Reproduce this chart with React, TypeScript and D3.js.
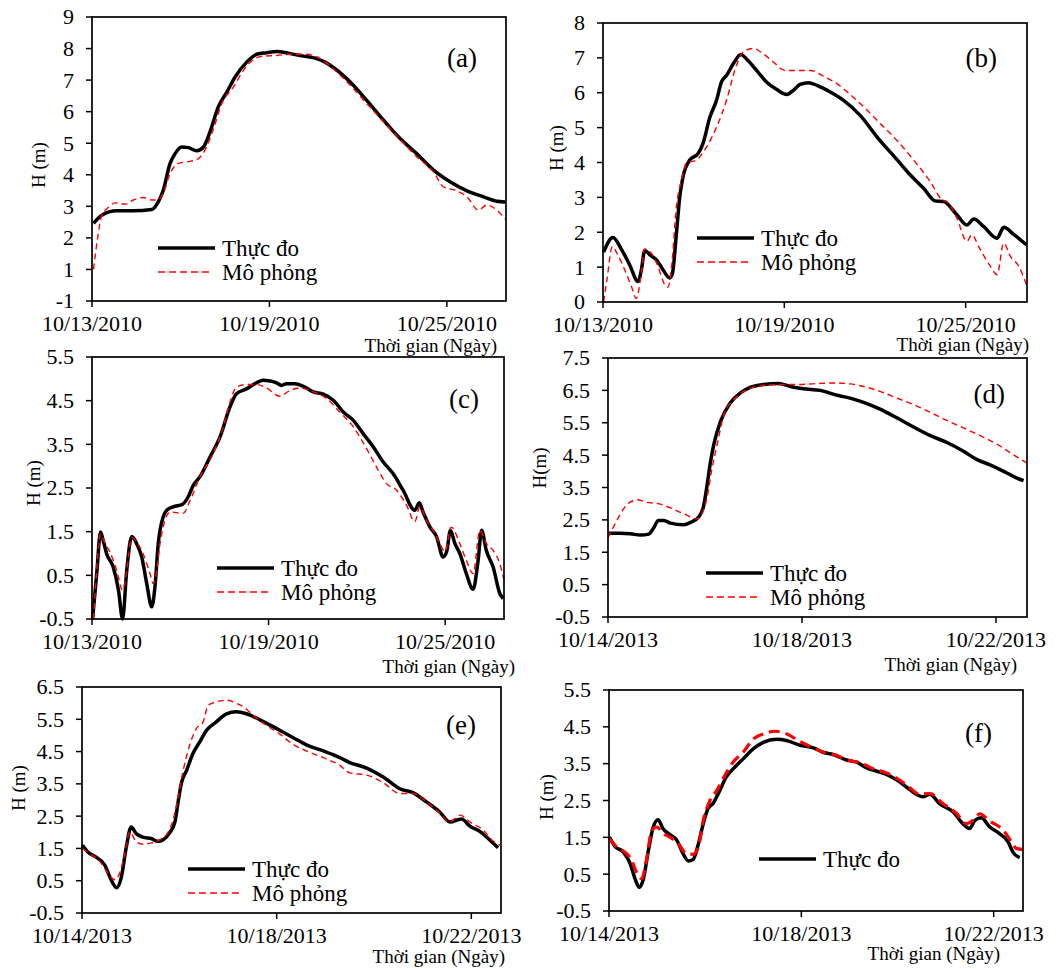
import React from 'react';
import * as d3 from 'd3';

// Observed (Thực đo) and simulated (Mô phỏng) water level H (m), [day offset, value]
const obsA = [[0.05,2.46],[0.33,2.72],[0.83,2.86],[1.4,2.86],[2.02,2.9],[2.24,3.14],[2.41,3.51],[2.64,4.36],[2.81,4.67],[3.03,4.88],[3.26,4.86],[3.54,4.76],[3.77,4.88],[3.99,5.36],[4.27,6.15],[4.56,6.62],[4.84,7.1],[5.23,7.57],[5.57,7.82],[5.91,7.87],[6.25,7.91],[6.7,7.84],[7.15,7.76],[7.6,7.68],[7.88,7.57],[8.22,7.36],[8.73,6.94],[9.29,6.36],[9.86,5.73],[10.42,5.15],[10.98,4.67],[11.55,4.15],[12.11,3.78],[12.68,3.49],[13.24,3.3],[13.69,3.16],[13.97,3.14]];
const simA = [[0.05,1.0],[0.18,1.93],[0.33,2.72],[0.55,2.96],[0.78,3.11],[1.12,3.07],[1.4,3.2],[1.74,3.28],[2.02,3.2],[2.19,3.2],[2.41,3.41],[2.64,4.04],[2.92,4.36],[3.2,4.41],[3.54,4.48],[3.82,4.78],[4.11,5.46],[4.39,6.26],[4.78,6.78],[5.12,7.31],[5.46,7.65],[5.8,7.76],[6.25,7.78],[6.7,7.82],[7.26,7.82],[7.66,7.71],[8.16,7.36],[8.73,6.84],[9.29,6.26],[9.86,5.68],[10.42,5.12],[10.98,4.57],[11.55,4.09],[11.88,3.62],[12.34,3.49],[12.68,3.3],[13.07,2.88],[13.35,3.04],[13.69,2.88],[13.97,2.6]];

const obsB = [[0.02,1.43],[0.33,1.85],[0.61,1.51],[0.88,1.07],[1.16,0.59],[1.27,0.92],[1.38,1.48],[1.55,1.35],[1.77,1.21],[1.99,0.92],[2.21,0.69],[2.3,0.83],[2.43,1.97],[2.54,3.02],[2.65,3.6],[2.87,4.07],[3.15,4.26],[3.31,4.55],[3.54,5.31],[3.76,5.79],[3.92,6.31],[4.09,6.5],[4.31,6.83],[4.56,7.1],[4.75,6.97],[5.08,6.64],[5.41,6.31],[5.75,6.09],[6.08,5.95],[6.3,6.07],[6.52,6.24],[6.8,6.29],[7.08,6.21],[7.52,6.02],[7.96,5.78],[8.51,5.35],[9.07,4.73],[9.72,4.09],[10.17,3.64],[10.61,3.26],[10.99,2.9],[11.27,2.88],[11.71,2.5],[12.04,2.21],[12.27,2.38],[12.6,2.16],[13.04,1.83],[13.26,2.14],[13.6,1.93],[14.01,1.64]];
const simB = [[0.02,0],[0.13,0.64],[0.31,1.59],[0.46,1.4],[0.72,0.92],[0.94,0.45],[1.1,0.1],[1.27,0.83],[1.38,1.52],[1.6,1.4],[1.82,1.02],[2.04,0.5],[2.15,0.43],[2.27,1.02],[2.43,2.74],[2.6,3.5],[2.76,3.98],[3.09,4.07],[3.43,4.45],[3.76,5.02],[4.09,5.79],[4.36,6.64],[4.64,7.17],[4.97,7.27],[5.3,7.12],[5.64,6.88],[6.02,6.64],[6.41,6.64],[6.86,6.64],[7.3,6.47],[7.74,6.26],[8.18,5.95],[8.62,5.6],[9.17,5.12],[9.72,4.64],[10.28,4.07],[10.83,3.45],[11.22,2.93],[11.38,2.88],[11.71,2.4],[12.04,1.74],[12.21,1.93],[12.43,1.59],[12.82,1.02],[13.04,0.78],[13.26,1.69],[13.48,1.31],[13.76,1.02],[14.01,0.5]];

const obsC = [[0.02,-0.5],[0.16,0.54],[0.29,1.49],[0.38,1.3],[0.5,0.99],[0.72,0.69],[0.9,0.16],[1.04,-0.5],[1.18,0.61],[1.35,1.39],[1.52,1.22],[1.69,0.92],[1.86,0.31],[2.03,-0.22],[2.14,0.24],[2.25,1.22],[2.42,1.84],[2.54,1.99],[2.76,2.07],[3.08,2.13],[3.27,2.3],[3.44,2.56],[3.67,2.76],[4.01,3.21],[4.35,3.67],[4.69,4.36],[4.91,4.66],[5.25,4.77],[5.65,4.93],[5.82,4.97],[6.05,4.95],[6.27,4.91],[6.44,4.85],[6.61,4.89],[6.89,4.89],[7.18,4.83],[7.52,4.7],[7.86,4.65],[8.2,4.51],[8.54,4.24],[8.88,4.05],[9.22,3.74],[9.56,3.44],[9.89,3.1],[10.23,2.83],[10.57,2.45],[10.97,1.99],[11.12,2.16],[11.25,1.95],[11.48,1.61],[11.71,1.38],[11.93,0.92],[12.05,1.04],[12.18,1.53],[12.33,1.23],[12.5,1.0],[12.72,0.54],[12.95,0.18],[13.12,0.84],[13.24,1.53],[13.4,1.07],[13.63,0.69],[13.86,0.08],[13.97,-0.03]];
const simC = [[0.05,-0.5],[0.16,0.61],[0.29,1.45],[0.45,1.22],[0.61,1.03],[0.84,0.61],[1.04,0.16],[1.18,0.61],[1.35,1.37],[1.52,1.26],[1.74,0.99],[1.97,0.54],[2.08,0.31],[2.2,0.61],[2.31,1.22],[2.48,1.76],[2.65,1.95],[3.1,1.92],[3.33,2.21],[3.67,2.76],[4.12,3.29],[4.46,3.9],[4.69,4.47],[4.91,4.81],[5.25,4.87],[5.59,4.87],[5.93,4.79],[6.38,4.6],[6.72,4.73],[7.06,4.79],[7.52,4.7],[7.97,4.55],[8.42,4.24],[8.88,3.9],[9.33,3.4],[9.67,2.98],[10.01,2.6],[10.35,2.45],[10.69,2.1],[10.97,1.73],[11.14,2.07],[11.37,1.76],[11.59,1.53],[11.82,1.23],[11.99,1.04],[12.21,1.6],[12.5,1.23],[12.72,0.84],[12.95,0.54],[13.18,1.53],[13.4,1.23],[13.63,1.07],[13.86,0.76],[14.0,0.39]];

const obsD = [[0,2.09],[0.25,2.09],[0.46,2.07],[0.67,2.03],[0.84,2.06],[0.94,2.25],[1.04,2.48],[1.15,2.48],[1.29,2.4],[1.56,2.35],[1.7,2.42],[1.87,2.59],[1.97,2.92],[2.04,3.54],[2.11,4.26],[2.18,4.82],[2.32,5.54],[2.52,6.11],[2.73,6.42],[2.93,6.59],[3.21,6.68],[3.52,6.71],[3.76,6.62],[4.03,6.55],[4.38,6.5],[4.72,6.35],[4.99,6.26],[5.27,6.13],[5.61,5.92],[5.96,5.65],[6.3,5.37],[6.65,5.1],[6.99,4.89],[7.33,4.62],[7.61,4.36],[7.88,4.2],[8.16,4.0],[8.43,3.79],[8.57,3.71]];
const simD = [[0,1.94],[0.19,2.5],[0.39,2.97],[0.6,3.12],[0.8,3.04],[1.04,3.0],[1.29,2.87],[1.56,2.69],[1.84,2.53],[1.94,2.71],[2.04,3.17],[2.14,4.05],[2.25,4.82],[2.38,5.7],[2.59,6.21],[2.87,6.52],[3.21,6.66],[3.55,6.68],[3.9,6.68],[4.31,6.71],[4.72,6.73],[4.99,6.7],[5.27,6.62],[5.61,6.47],[5.96,6.26],[6.3,6.06],[6.65,5.82],[6.99,5.57],[7.33,5.34],[7.68,5.1],[8.02,4.84],[8.36,4.51],[8.64,4.26]];

const obsE = [[0.01,1.6],[0.12,1.39],[0.29,1.23],[0.47,0.98],[0.57,0.62],[0.71,0.28],[0.81,0.62],[0.91,1.54],[1.01,2.16],[1.12,1.95],[1.25,1.85],[1.43,1.8],[1.56,1.72],[1.67,1.77],[1.8,1.98],[1.91,2.32],[1.97,2.89],[2.04,3.51],[2.15,3.92],[2.28,4.44],[2.42,4.8],[2.56,5.16],[2.76,5.42],[2.97,5.67],[3.17,5.73],[3.38,5.67],[3.65,5.49],[4.0,5.21],[4.34,4.93],[4.61,4.71],[4.96,4.52],[5.3,4.31],[5.5,4.16],[5.85,3.99],[6.19,3.71],[6.53,3.35],[6.81,3.22],[7.08,2.94],[7.35,2.63],[7.56,2.32],[7.8,2.41],[7.97,2.19],[8.18,2.02],[8.38,1.76],[8.55,1.52]];
const simE = [[0.01,1.49],[0.16,1.34],[0.36,1.11],[0.53,0.74],[0.67,0.53],[0.77,0.72],[0.88,1.34],[0.98,2.01],[1.12,1.7],[1.25,1.63],[1.43,1.67],[1.6,1.77],[1.77,2.01],[1.87,2.37],[1.97,3.04],[2.08,3.92],[2.21,4.69],[2.35,5.21],[2.49,5.42],[2.59,5.93],[2.76,6.04],[2.97,6.09],[3.17,6.0],[3.34,5.86],[3.52,5.62],[3.79,5.31],[4.06,5.05],[4.34,4.72],[4.61,4.52],[4.96,4.31],[5.3,4.07],[5.5,3.84],[5.85,3.77],[6.19,3.54],[6.53,3.2],[6.81,3.2],[7.08,2.94],[7.35,2.6],[7.56,2.32],[7.77,2.53],[7.97,2.32],[8.25,2.06],[8.45,1.73],[8.59,1.6]];

const obsF = [[0.01,1.51],[0.12,1.26],[0.3,1.1],[0.44,0.79],[0.54,0.38],[0.63,0.14],[0.71,0.34],[0.82,1.15],[0.92,1.78],[1.02,1.98],[1.12,1.74],[1.26,1.58],[1.41,1.42],[1.54,1.06],[1.65,0.86],[1.75,0.9],[1.86,1.33],[1.96,1.87],[2.06,2.28],[2.17,2.43],[2.27,2.68],[2.44,3.14],[2.65,3.45],[2.79,3.63],[3.0,3.9],[3.21,4.08],[3.48,4.16],[3.69,4.13],[3.97,4.0],[4.25,3.93],[4.45,3.81],[4.66,3.75],[4.94,3.6],[5.15,3.54],[5.35,3.39],[5.56,3.3],[5.77,3.21],[5.98,3.06],[6.19,2.86],[6.39,2.67],[6.53,2.6],[6.67,2.67],[6.88,2.41],[7.16,2.19],[7.36,1.87],[7.5,1.74],[7.61,1.96],[7.74,2.03],[7.92,1.78],[8.12,1.6],[8.3,1.38],[8.4,1.1],[8.54,0.95]];
const simF = [[0.01,1.47],[0.16,1.24],[0.33,1.1],[0.47,0.88],[0.57,0.56],[0.68,0.38],[0.78,0.88],[0.89,1.69],[0.99,1.78],[1.13,1.6],[1.26,1.51],[1.44,1.33],[1.61,1.06],[1.75,1.04],[1.86,1.24],[1.96,1.96],[2.1,2.5],[2.24,2.77],[2.41,3.18],[2.58,3.54],[2.79,3.81],[3.0,4.17],[3.21,4.31],[3.45,4.38],[3.69,4.31],[3.97,4.1],[4.25,3.93],[4.45,3.81],[4.73,3.72],[5.01,3.58],[5.28,3.5],[5.49,3.36],[5.77,3.25],[6.05,3.05],[6.25,2.85],[6.46,2.67],[6.67,2.69],[6.95,2.41],[7.22,2.16],[7.43,1.87],[7.61,2.01],[7.71,2.14],[7.92,1.94],[8.2,1.69],[8.37,1.38],[8.47,1.2],[8.6,1.17]];

// axis ticks
const xTicks2010 = ['10/13/2010', '10/19/2010', '10/25/2010'];
const xTicks2013 = ['10/14/2013', '10/18/2013', '10/22/2013'];
const yTicksA = [0, 1, 2, 3, 4, 5, 6, 7, 8, 9];
const yLabelsA = ['-1', '1', '2', '3', '4', '5', '6', '7', '8', '9'];
const yTicksB = [0, 1, 2, 3, 4, 5, 6, 7, 8];
const yTicksHalf = [-0.5, 0.5, 1.5, 2.5, 3.5, 4.5, 5.5, 6.5, 7.5];

const legendObs = 'Thực đo';
const legendSim = 'Mô phỏng';
const xTitle = 'Thời gian (Ngày)';

const FONT = '"Liberation Serif", "Times New Roman", serif';
const parseDate = d3.timeParse('%m/%d/%Y');
const DAY = 86400000;

const panels = [
  { tag: '(a)', obs: obsA, sim: simA, start: xTicks2010[0], xTicks: xTicks2010, days: 14, yDomain: [0, 9], yTicks: yTicksA, yLabels: yLabelsA, yTitle: 'H (m)',
    box: [92, 17, 506, 301], yTitlePos: [38, 165], tagPos: [477, 67], legendPos: [158, 248], xTitlePos: [497, 352], simLegend: true, thickSim: false },
  { tag: '(b)', obs: obsB, sim: simB, start: xTicks2010[0], xTicks: xTicks2010, days: 14.03, yDomain: [0, 8], yTicks: yTicksB, yLabels: null, yTitle: 'H (m)',
    box: [603, 23, 1027, 302], yTitlePos: [556, 148], tagPos: [997, 67], legendPos: [697, 238], xTitlePos: [1029, 351], simLegend: true, thickSim: false },
  { tag: '(c)', obs: obsC, sim: simC, start: xTicks2010[0], xTicks: xTicks2010, days: 14, yDomain: [-0.5, 5.5], yTicks: yTicksHalf.slice(0, 7), yLabels: null, yTitle: 'H (m)',
    box: [92, 357, 504, 619], yTitlePos: [33, 483], tagPos: [479, 408], legendPos: [217, 568], xTitlePos: [515, 673], simLegend: true, thickSim: false },
  { tag: '(d)', obs: obsD, sim: simD, start: xTicks2013[0], xTicks: xTicks2013, days: 8.64, yDomain: [-0.5, 7.5], yTicks: yTicksHalf, yLabels: null, yTitle: 'H(m)',
    box: [608, 358, 1027, 617], yTitlePos: [539, 468], tagPos: [1005, 403], legendPos: [706, 573], xTitlePos: [1017, 671], simLegend: true, thickSim: false },
  { tag: '(e)', obs: obsE, sim: simE, start: xTicks2013[0], xTicks: xTicks2013, days: 8.61, yDomain: [-0.5, 6.5], yTicks: yTicksHalf.slice(0, 8), yLabels: null, yTitle: 'H (m)',
    box: [82, 687, 501, 913], yTitlePos: [18, 788], tagPos: [476, 734], legendPos: [188, 869], xTitlePos: [505, 963], simLegend: true, thickSim: false },
  { tag: '(f)', obs: obsF, sim: simF, start: xTicks2013[0], xTicks: xTicks2013, days: 8.61, yDomain: [-0.5, 5.5], yTicks: yTicksHalf.slice(0, 7), yLabels: null, yTitle: 'H (m)',
    box: [609, 690, 1023, 911], yTitlePos: [546, 797], tagPos: [992, 742], legendPos: [759, 859], xTitlePos: [1000, 960], simLegend: false, thickSim: true },
];

function Panel({ p }) {
  const [x0, y0, x1, y1] = p.box;
  const t0 = parseDate(p.start);
  const x = d3.scaleTime().domain([t0, new Date(+t0 + p.days * DAY)]).range([x0, x1]);
  const y = d3.scaleLinear().domain(p.yDomain).range([y1, y0]);
  const line = d3
    .line()
    .x((d) => x(new Date(+t0 + d[0] * DAY)))
    .y((d) => y(d[1]))
    .curve(d3.curveMonotoneX);
  const simDash = p.thickSim ? '11 6' : '6 4';
  const simWidth = p.thickSim ? 3.2 : 1.4;
  const [lx, ly] = p.legendPos;
  return (
    <g>
      <defs>
        <clipPath id={'clip' + p.tag}>
          <rect x={x0} y={y0 - 2} width={x1 - x0} height={y1 - y0 + 4} />
        </clipPath>
      </defs>
      {/* y ticks */}
      {p.yTicks.map((v, i) => (
        <g key={'y' + v}>
          <line x1={x0 - 6} x2={x0} y1={y(v)} y2={y(v)} stroke="#000" strokeWidth={1.5} />
          <text x={x0 - 18} y={y(v)} dy="0.34em" textAnchor="end" fontSize={22} fontFamily={FONT}>
            {p.yLabels ? p.yLabels[i] : String(v)}
          </text>
        </g>
      ))}
      {/* x ticks */}
      {p.xTicks.map((s) => {
        const xv = x(parseDate(s));
        return (
          <g key={s}>
            <line x1={xv} x2={xv} y1={y1} y2={y1 + 6} stroke="#000" strokeWidth={1.5} />
            <text x={xv} y={y1 + 30} textAnchor="middle" fontSize={22} fontFamily={FONT}>
              {s}
            </text>
          </g>
        );
      })}
      <g clipPath={`url(#clip${p.tag})`}>
        <path d={line(p.obs)} fill="none" stroke="#000" strokeWidth={3.5} strokeLinejoin="round" />
        <path d={line(p.sim)} fill="none" stroke="#ff0000" strokeWidth={simWidth} strokeDasharray={simDash} />
      </g>
      <rect x={x0} y={y0} width={x1 - x0} height={y1 - y0} fill="none" stroke="#000" strokeWidth={1.7} />
      <text
        transform={`translate(${p.yTitlePos[0]},${p.yTitlePos[1]}) rotate(-90)`}
        textAnchor="middle"
        dy="0.35em"
        fontSize={19}
        fontFamily={FONT}
      >
        {p.yTitle}
      </text>
      <text x={p.xTitlePos[0]} y={p.xTitlePos[1]} textAnchor="end" fontSize={19} fontFamily={FONT}>
        {xTitle}
      </text>
      <text x={p.tagPos[0]} y={p.tagPos[1]} textAnchor="end" fontSize={27} fontFamily={FONT}>
        {p.tag}
      </text>
      {/* legend */}
      <line x1={lx} x2={lx + 57} y1={ly} y2={ly} stroke="#000" strokeWidth={3.5} />
      <text x={lx + 64} y={ly} dy="0.33em" fontSize={23} fontFamily={FONT}>
        {legendObs}
      </text>
      {p.simLegend && (
        <g>
          <line x1={lx} x2={lx + 52} y1={ly + 24} y2={ly + 24} stroke="#ff0000" strokeWidth={1.4} strokeDasharray="7 4" />
          <text x={lx + 64} y={ly + 24} dy="0.33em" fontSize={23} fontFamily={FONT}>
            {legendSim}
          </text>
        </g>
      )}
    </g>
  );
}

export default function App() {
  return (
    <svg
      width={1059}
      height={969}
      viewBox="0 0 1059 969"
      style={{ position: 'absolute', left: 0, top: 0, background: '#fff' }}
    >
      <rect x={0} y={0} width={1059} height={969} fill="#fff" />
      {panels.map((p) => (
        <Panel key={p.tag} p={p} />
      ))}
    </svg>
  );
}
